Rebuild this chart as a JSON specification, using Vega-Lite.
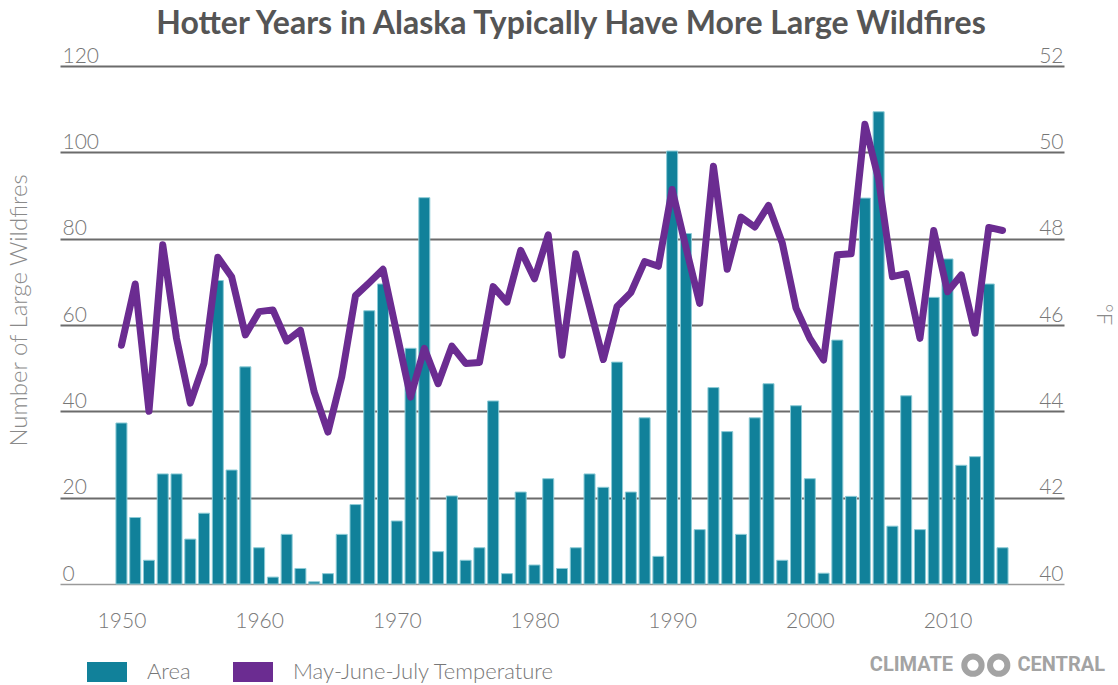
{
  "$schema": "https://vega.github.io/schema/vega-lite/v6.json",
  "width": 1004,
  "height": 518,
  "autosize": {"type": "none"},
  "padding": {"left": 60, "top": 66, "right": 54, "bottom": 101},
  "background": "white",
  "title": {
    "text": "Hotter Years in Alaska Typically Have More Large Wildfires",
    "font": "Lato", "fontSize": 32, "fontWeight": "bold", "color": "#555555",
    "anchor": "middle", "frame": "group", "dx": 9, "offset": -21, "baseline": "alphabetic"
  },
  "config": {"view": {"stroke": null}, "font": "Lato"},
  "data": {"values": [
    {"year": 1950, "count": 37.3, "temp": 45.53},
    {"year": 1951, "count": 15.4, "temp": 46.95},
    {"year": 1952, "count": 5.5, "temp": 44.0},
    {"year": 1953, "count": 25.5, "temp": 47.86},
    {"year": 1954, "count": 25.5, "temp": 45.69},
    {"year": 1955, "count": 10.4, "temp": 44.19},
    {"year": 1956, "count": 16.4, "temp": 45.11},
    {"year": 1957, "count": 70.3, "temp": 47.57},
    {"year": 1958, "count": 26.4, "temp": 47.12},
    {"year": 1959, "count": 50.3, "temp": 45.77},
    {"year": 1960, "count": 8.4, "temp": 46.31},
    {"year": 1961, "count": 1.6, "temp": 46.35},
    {"year": 1962, "count": 11.5, "temp": 45.63},
    {"year": 1963, "count": 3.6, "temp": 45.88},
    {"year": 1964, "count": 0.5, "temp": 44.45},
    {"year": 1965, "count": 2.4, "temp": 43.52},
    {"year": 1966, "count": 11.5, "temp": 44.8},
    {"year": 1967, "count": 18.4, "temp": 46.68},
    {"year": 1968, "count": 63.3, "temp": 46.98},
    {"year": 1969, "count": 69.5, "temp": 47.29},
    {"year": 1970, "count": 14.6, "temp": 45.81},
    {"year": 1971, "count": 54.6, "temp": 44.33},
    {"year": 1972, "count": 89.5, "temp": 45.46},
    {"year": 1973, "count": 7.5, "temp": 44.64},
    {"year": 1974, "count": 20.4, "temp": 45.51},
    {"year": 1975, "count": 5.5, "temp": 45.11},
    {"year": 1976, "count": 8.4, "temp": 45.13},
    {"year": 1977, "count": 42.4, "temp": 46.89},
    {"year": 1978, "count": 2.4, "temp": 46.53},
    {"year": 1979, "count": 21.3, "temp": 47.73},
    {"year": 1980, "count": 4.4, "temp": 47.07},
    {"year": 1981, "count": 24.4, "temp": 48.09},
    {"year": 1982, "count": 3.6, "temp": 45.3},
    {"year": 1983, "count": 8.4, "temp": 47.65},
    {"year": 1984, "count": 25.5, "temp": 46.43},
    {"year": 1985, "count": 22.4, "temp": 45.2},
    {"year": 1986, "count": 51.4, "temp": 46.43},
    {"year": 1987, "count": 21.3, "temp": 46.75},
    {"year": 1988, "count": 38.5, "temp": 47.47},
    {"year": 1989, "count": 6.4, "temp": 47.36},
    {"year": 1990, "count": 100.3, "temp": 49.14},
    {"year": 1991, "count": 81.2, "temp": 47.8},
    {"year": 1992, "count": 12.6, "temp": 46.5},
    {"year": 1993, "count": 45.5, "temp": 49.68},
    {"year": 1994, "count": 35.3, "temp": 47.29},
    {"year": 1995, "count": 11.5, "temp": 48.5},
    {"year": 1996, "count": 38.5, "temp": 48.27},
    {"year": 1997, "count": 46.4, "temp": 48.77},
    {"year": 1998, "count": 5.5, "temp": 47.9},
    {"year": 1999, "count": 41.3, "temp": 46.39},
    {"year": 2000, "count": 24.4, "temp": 45.69},
    {"year": 2001, "count": 2.5, "temp": 45.19},
    {"year": 2002, "count": 56.5, "temp": 47.63},
    {"year": 2003, "count": 20.3, "temp": 47.65},
    {"year": 2004, "count": 89.4, "temp": 50.65},
    {"year": 2005, "count": 109.4, "temp": 49.37},
    {"year": 2006, "count": 13.4, "temp": 47.12},
    {"year": 2007, "count": 43.6, "temp": 47.19},
    {"year": 2008, "count": 12.6, "temp": 45.69},
    {"year": 2009, "count": 66.4, "temp": 48.19},
    {"year": 2010, "count": 75.3, "temp": 46.77},
    {"year": 2011, "count": 27.5, "temp": 47.16},
    {"year": 2012, "count": 29.5, "temp": 45.81},
    {"year": 2013, "count": 69.5, "temp": 48.26},
    {"year": 2014, "count": 8.4, "temp": 48.19}
  ]},
  "layer": [
    {
      "layer": [
        {
          "mark": {"type": "bar", "size": 11, "stroke": "#8ccbd6", "strokeWidth": 1},
          "encoding": {
            "x": {
              "field": "year", "type": "quantitative",
              "scale": {"domain": [1945.9, 2018.1], "nice": false, "zero": false},
              "axis": {
                "values": [1950, 1960, 1970, 1980, 1990, 2000, 2010],
                "format": "d", "grid": false, "domain": false, "ticks": false,
                "labelFlush": false, "labelOverlap": false,
                "labelPadding": 43, "labelBaseline": "alphabetic",
                "labelFont": "Lato", "labelFontSize": 21, "labelFontWeight": 300, "labelColor": "#777777",
                "title": null
              }
            },
            "y": {
              "field": "count", "type": "quantitative",
              "scale": {"domain": [0, 120], "nice": false, "zero": false},
              "axis": {
                "values": [0, 20, 40, 60, 80, 100, 120],
                "grid": true,
                "gridColor": {"condition": {"test": "datum.value === 0", "value": "#9a9a9a"}, "value": "#6b6b6b"},
                "gridWidth": {"condition": {"test": "datum.value === 0", "value": 1.5}, "value": 2},
                "domain": false, "ticks": false, "labelOverlap": false,
                "labelAlign": "left", "labelBaseline": "alphabetic", "labelPadding": -2, "labelOffset": -4,
                "labelFont": "Lato", "labelFontSize": 21, "labelFontWeight": 300, "labelColor": "#777777",
                "title": "Number of Large Wildfires",
                "titleFont": "Lato", "titleFontSize": 24, "titleFontWeight": 300, "titleColor": "#8a8a8a",
                "titleAngle": -90, "titleX": -41, "titleY": 244, "titleAlign": "center", "titleBaseline": "middle"
              }
            },
            "color": {
              "datum": "Area",
              "scale": {"domain": ["Area", "May-June-July Temperature"], "range": ["#11819a", "#6b2c91"]},
              "legend": {
                "title": null, "orient": "none", "legendX": 27, "legendY": 586,
                "direction": "horizontal", "padding": 0,
                "symbolType": "M-1,-0.5H1V0.5H-1Z", "symbolSize": 1600, "symbolStrokeWidth": 0,
                "labelOffset": 20, "columnPadding": 42, "labelLimit": 400,
                "labelFont": "Lato", "labelFontSize": 22, "labelFontWeight": 300, "labelColor": "#777777"
              }
            }
          }
        },
        {
          "data": {"values": [{"label": "CLIMATE"}]},
          "mark": {"type": "text", "align": "right", "baseline": "middle", "font": "Roboto", "fontWeight": "bold", "fontSize": 20, "color": "#a3a3a3"},
          "encoding": {
            "x": {"datum": 2010.41, "type": "quantitative"},
            "y": {"datum": -18.8, "type": "quantitative"},
            "text": {"field": "label"}
          }
        },
        {
          "data": {"values": [{"label": "CENTRAL"}]},
          "mark": {"type": "text", "align": "left", "baseline": "middle", "font": "Roboto", "fontWeight": "bold", "fontSize": 20, "color": "#a3a3a3"},
          "encoding": {
            "x": {"datum": 2015.08, "type": "quantitative"},
            "y": {"datum": -18.8, "type": "quantitative"},
            "text": {"field": "label"}
          }
        },
        {
          "data": {"values": [{"label": "ring"}]},
          "mark": {"type": "point", "shape": "circle", "filled": false, "size": 300, "stroke": "#a3a3a3", "strokeWidth": 6, "opacity": 1},
          "encoding": {
            "x": {"datum": 2011.85, "type": "quantitative"},
            "y": {"datum": -18.8, "type": "quantitative"}
          }
        },
        {
          "data": {"values": [{"label": "ring"}]},
          "mark": {"type": "point", "shape": "circle", "filled": false, "size": 300, "stroke": "#a3a3a3", "strokeWidth": 6, "opacity": 1},
          "encoding": {
            "x": {"datum": 2013.72, "type": "quantitative"},
            "y": {"datum": -18.8, "type": "quantitative"}
          }
        }
      ]
    },
    {
      "mark": {"type": "line", "color": "#6b2c91", "strokeWidth": 7, "strokeJoin": "round", "strokeCap": "round"},
      "encoding": {
        "x": {"field": "year", "type": "quantitative"},
        "y": {
          "field": "temp", "type": "quantitative",
          "scale": {"domain": [40, 52], "nice": false, "zero": false},
          "axis": {
            "orient": "right",
            "values": [40, 42, 44, 46, 48, 50, 52],
            "grid": false, "domain": false, "ticks": false, "labelOverlap": false,
            "labelAlign": "right", "labelBaseline": "alphabetic", "labelPadding": -1, "labelOffset": -4,
            "labelFont": "Lato", "labelFontSize": 21, "labelFontWeight": 300, "labelColor": "#777777",
            "title": "°F",
            "titleFont": "Lato", "titleFontSize": 22, "titleFontWeight": 300, "titleColor": "#8a8a8a",
            "titleAngle": 90, "titleX": 39, "titleY": 248, "titleAlign": "center", "titleBaseline": "middle"
          }
        }
      }
    }
  ],
  "resolve": {"scale": {"y": "independent"}}
}
